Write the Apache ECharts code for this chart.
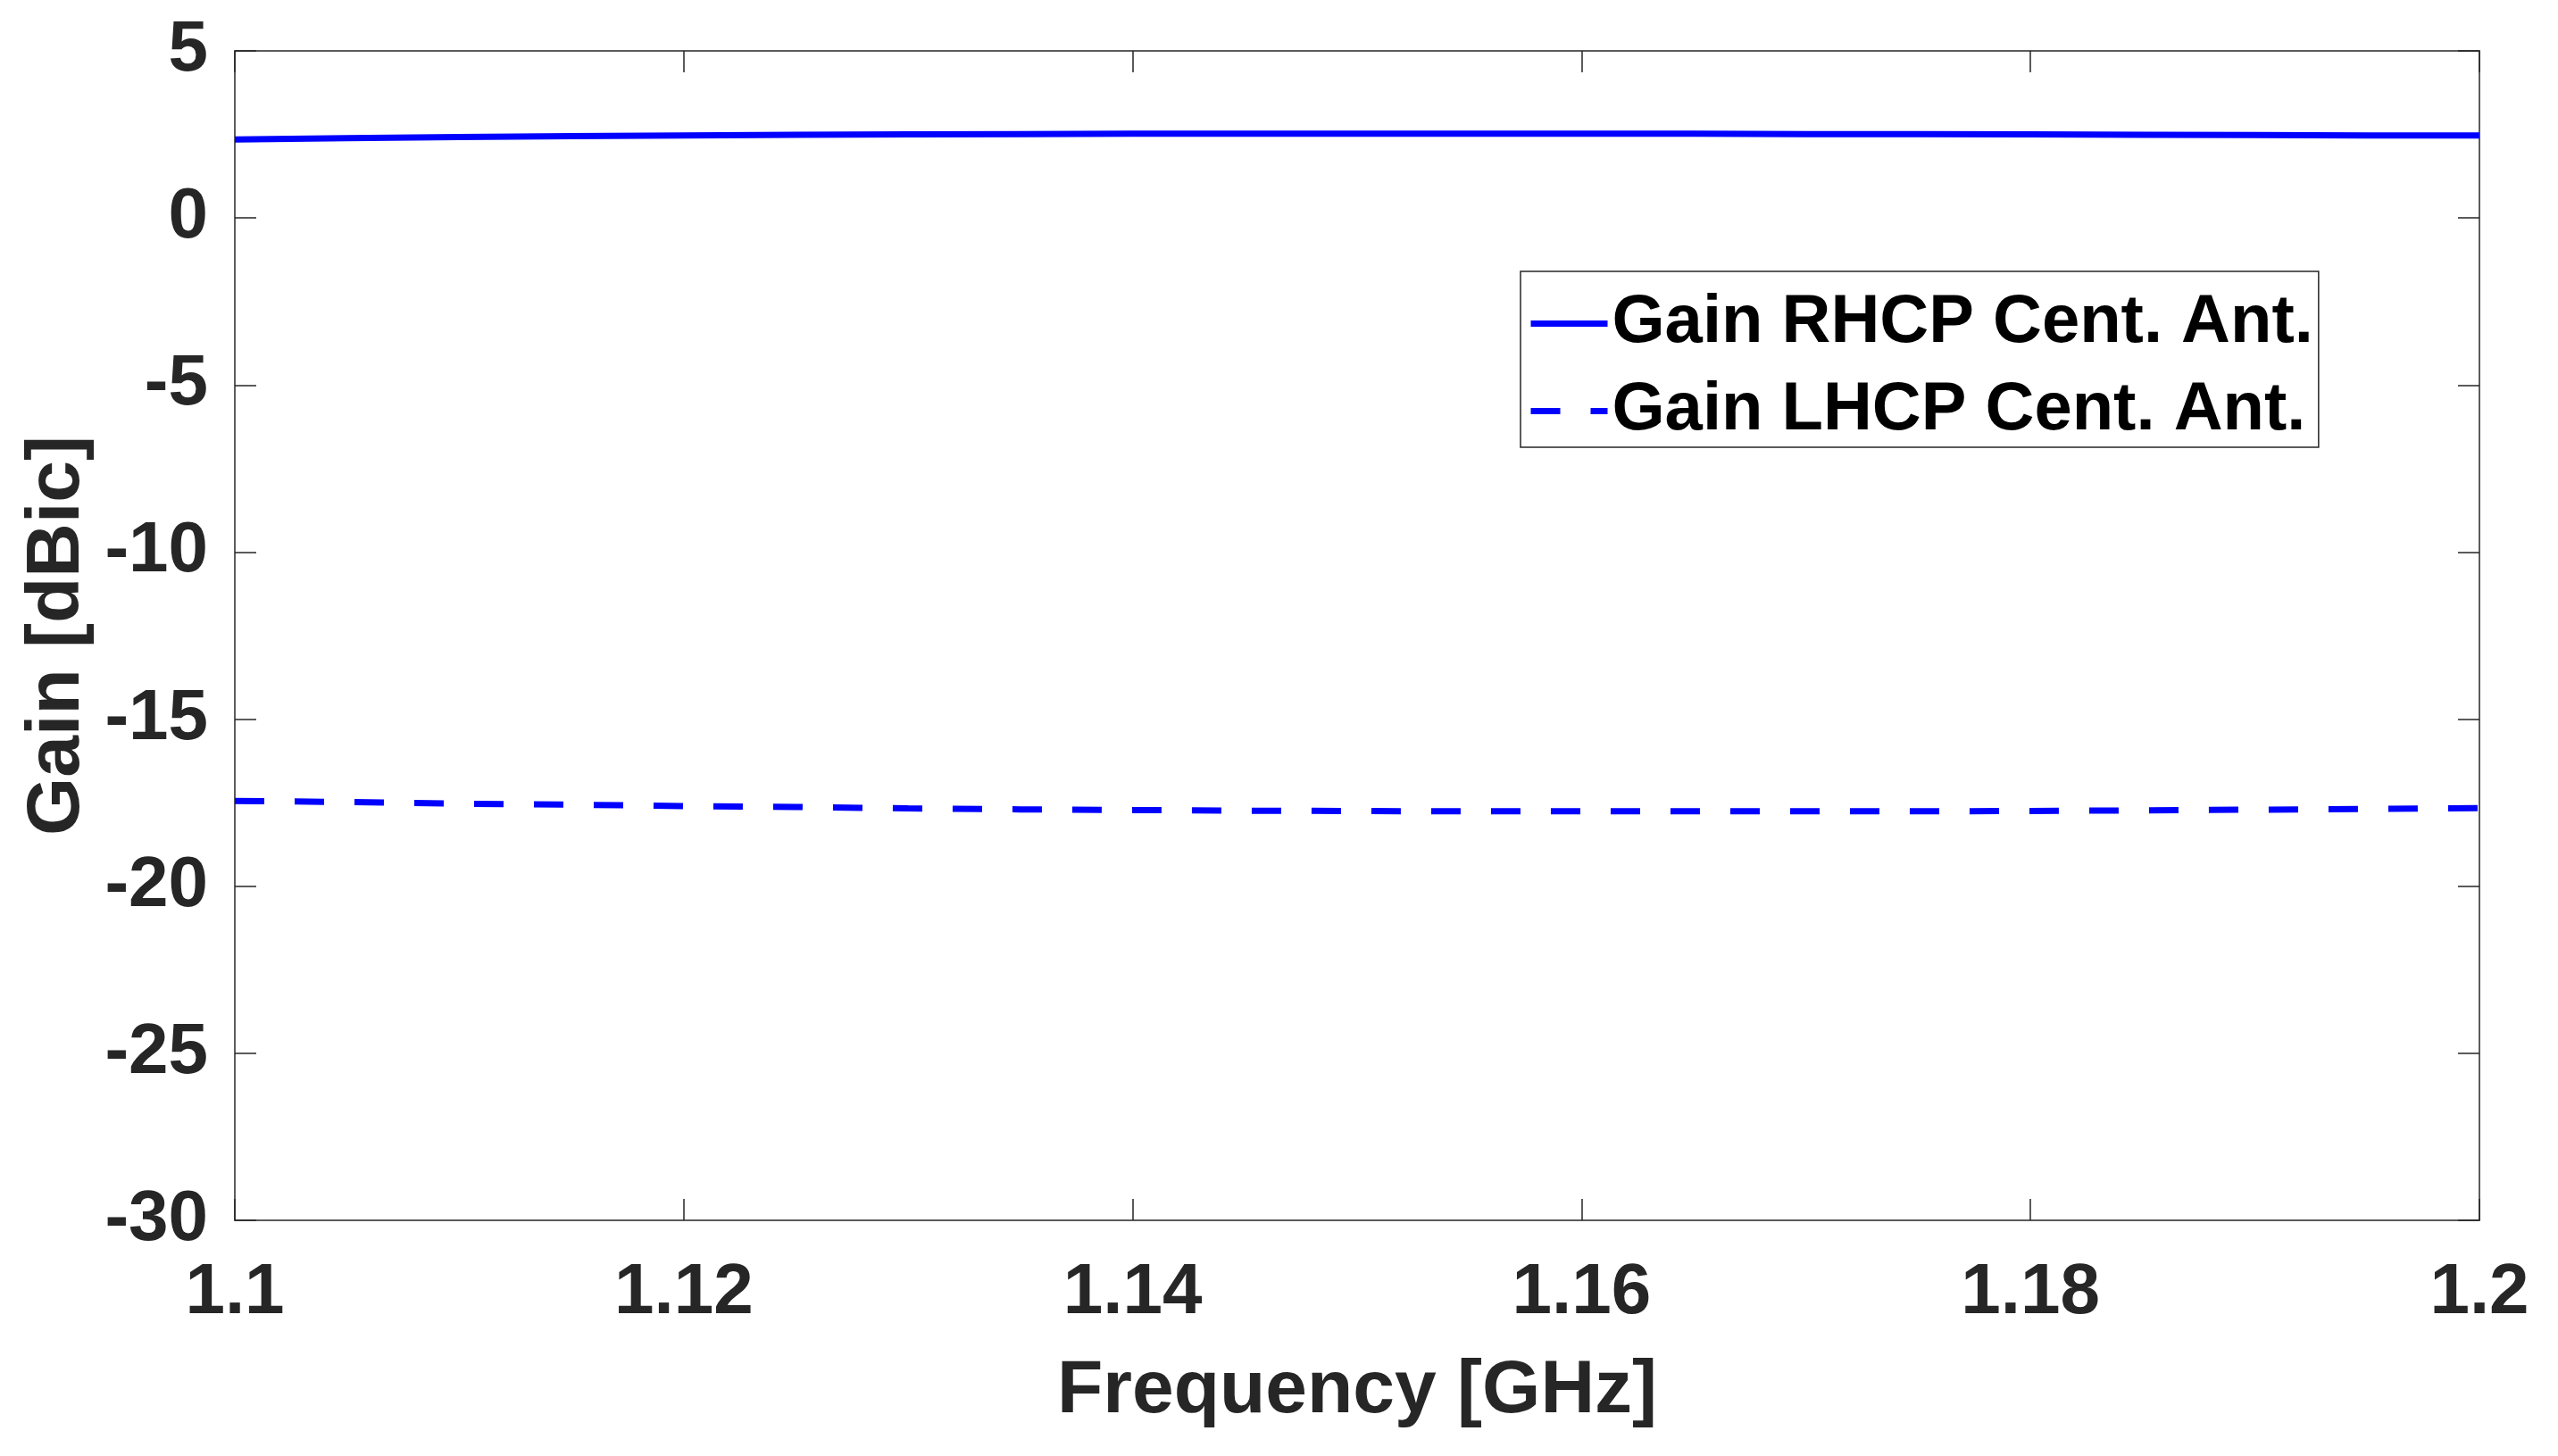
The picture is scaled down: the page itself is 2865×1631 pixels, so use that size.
<!DOCTYPE html>
<html>
<head>
<meta charset="utf-8">
<script src="https://cdn.jsdelivr.net/npm/echarts@6/dist/echarts.min.js"></script>
<style>
html,body{margin:0;padding:0;background:#fff;}
#chart{width:2865px;height:1631px;}
</style>
</head>
<body>
<div id="chart"></div>
<script>
// Frequency samples [GHz]
const freqs = [1.100,1.105,1.110,1.115,1.120,1.125,1.130,1.135,1.140,1.145,1.150,1.155,1.160,1.165,1.170,1.175,1.180,1.185,1.190,1.195,1.200];
// Gain RHCP Cent. Ant. [dBic]
const rhcp = [2.35,2.39,2.42,2.45,2.47,2.49,2.50,2.51,2.52,2.52,2.52,2.52,2.52,2.52,2.51,2.51,2.50,2.49,2.48,2.47,2.47];
// Gain LHCP Cent. Ant. [dBic]
const lhcp = [-17.45,-17.48,-17.53,-17.56,-17.60,-17.63,-17.67,-17.70,-17.72,-17.74,-17.75,-17.76,-17.76,-17.76,-17.76,-17.76,-17.75,-17.73,-17.71,-17.69,-17.66];
const seriesNames = ['Gain RHCP Cent. Ant.', 'Gain LHCP Cent. Ant.'];
const xName = 'Frequency [GHz]';
const yName = 'Gain [dBic]';

const FONT = "'Liberation Sans', Arial, Helvetica, sans-serif";
const AX = '#262626';

const chart = echarts.init(document.getElementById('chart'), null, {renderer: 'canvas'});

function pairs(xs, ys) { return xs.map((x, i) => [x, ys[i]]); }

const tickCommon = {show: true, inside: true, length: 24, lineStyle: {color: AX, width: 1.5}};
const lineCommon = {show: true, onZero: false, lineStyle: {color: AX, width: 1.5}};

chart.setOption({
  backgroundColor: '#ffffff',
  animation: false,
  grid: {left: 263, right: 88, top: 57, bottom: 264, containLabel: false, outerBoundsMode: 'none'},
  xAxis: [{
    type: 'value', min: 1.1, max: 1.2, interval: 0.02, position: 'bottom',
    axisLine: lineCommon, axisTick: tickCommon, splitLine: {show: false},
    axisLabel: {
      margin: 42, color: AX, fontSize: 80, fontWeight: 'bold', fontFamily: FONT,
      showMinLabel: true, showMaxLabel: true,
      formatter: v => String(parseFloat(v.toFixed(2)))
    },
    name: xName, nameLocation: 'middle', nameGap: 150,
    nameTextStyle: {color: AX, fontSize: 84, fontWeight: 'bold', fontFamily: FONT}
  }, {
    type: 'value', min: 1.1, max: 1.2, interval: 0.02, position: 'top',
    axisLine: lineCommon, axisTick: tickCommon, splitLine: {show: false},
    axisLabel: {show: false}
  }],
  yAxis: [{
    type: 'value', min: -30, max: 5, interval: 5, position: 'left',
    axisLine: lineCommon, axisTick: tickCommon, splitLine: {show: false},
    axisLabel: {
      margin: 30, color: AX, fontSize: 80, fontWeight: 'bold', fontFamily: FONT,
      showMinLabel: true, showMaxLabel: true, padding: [8, 0, 0, 0]
    },
    name: yName, nameLocation: 'middle', nameGap: 152, nameRotate: 90,
    nameTextStyle: {color: AX, fontSize: 84, fontWeight: 'bold', fontFamily: FONT}
  }, {
    type: 'value', min: -30, max: 5, interval: 5, position: 'right',
    axisLine: lineCommon, axisTick: tickCommon, splitLine: {show: false},
    axisLabel: {show: false}
  }],
  legend: {
    orient: 'vertical', left: 1703, top: 304,
    padding: [20, 6, 2, 8], itemGap: 21, itemWidth: 86, itemHeight: 30,
    backgroundColor: '#ffffff', borderColor: AX, borderWidth: 1.5, borderRadius: 0,
    itemStyle: {opacity: 0},
    lineStyle: {width: 7},
    textStyle: {color: '#000', fontSize: 76, fontWeight: 'bold', fontFamily: FONT, lineHeight: 77, padding: [0, 0, 0, 0]},
    data: seriesNames
  },
  series: [{
    name: seriesNames[0], type: 'line', xAxisIndex: 0, yAxisIndex: 0,
    data: pairs(freqs, rhcp), symbol: 'none', smooth: false,
    lineStyle: {color: '#0000ff', width: 7, type: 'solid'},
    itemStyle: {color: '#0000ff'}
  }, {
    name: seriesNames[1], type: 'line', xAxisIndex: 0, yAxisIndex: 0,
    data: pairs(freqs, lhcp), symbol: 'none', smooth: false,
    lineStyle: {color: '#0000ff', width: 7, type: [33, 34]},
    itemStyle: {color: '#0000ff'}
  }]
});
</script>
</body>
</html>
